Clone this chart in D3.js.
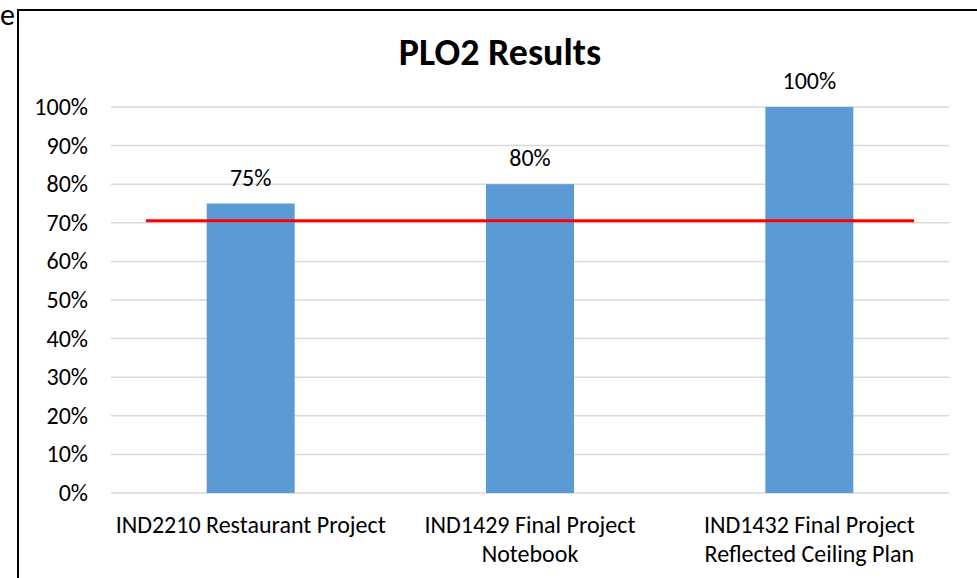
<!DOCTYPE html>
<html>
<head>
<meta charset="utf-8">
<script src="https://cdn.jsdelivr.net/npm/d3@7"></script>
<style>
  body { margin: 0; background: #fff; }
  text { font-family: Calibri, Carlito, Lato, "Open Sans", sans-serif; }
</style>
</head>
<body>
<div id="chart"></div>
<script>
// chart values
var categories = [
  ["IND2210 Restaurant Project"],
  ["IND1429 Final Project", "Notebook"],
  ["IND1432 Final Project", "Reflected Ceiling Plan"]
];
var results = [75, 80, 100];
var target = 70.5;
var yTicks = [0, 10, 20, 30, 40, 50, 60, 70, 80, 90, 100];
var chartTitle = "PLO2 Results";

var width = 977, height = 578;
var margin = { top: 107, right: 28, bottom: 85, left: 111 };

var svg = d3.select("#chart").append("svg")
  .attr("width", width)
  .attr("height", height);

// stray text from the page that holds the chart (cut off in the source too)
svg.append("text")
  .attr("x", 15)
  .attr("y", 25)
  .attr("text-anchor", "end")
  .style("font-size", "30px")
  .text("e");

// outer chart frame
svg.append("rect")
  .attr("x", 18)
  .attr("y", 10)
  .attr("width", width + 10)
  .attr("height", height + 10)
  .attr("fill", "none")
  .attr("stroke", "#000")
  .attr("stroke-width", 2);

var x = d3.scaleBand()
  .domain(d3.range(categories.length))
  .range([margin.left, width - margin.right])
  .paddingInner(0.685)
  .paddingOuter(0.3425);

var y = d3.scaleLinear()
  .domain([0, 100])
  .range([height - margin.bottom, margin.top]);

// gridlines
svg.append("g")
  .selectAll("line")
  .data(yTicks)
  .join("line")
  .attr("x1", margin.left)
  .attr("x2", width - margin.right)
  .attr("y1", d => y(d))
  .attr("y2", d => y(d))
  .attr("stroke", "#d9d9d9")
  .attr("stroke-width", 1.5);

// y tick labels
svg.append("g")
  .selectAll("text")
  .data(yTicks)
  .join("text")
  .attr("x", 88)
  .attr("y", d => y(d))
  .attr("dy", "0.33em")
  .attr("text-anchor", "end")
  .style("font-size", "24px")
  .attr("fill", "#000")
  .text(d => d + "%");

// bars
svg.append("g")
  .selectAll("rect")
  .data(results)
  .join("rect")
  .attr("x", (d, i) => x(i))
  .attr("width", x.bandwidth())
  .attr("y", d => y(d))
  .attr("height", d => y(0) - y(d))
  .attr("fill", "#5b9bd5");

// value labels
svg.append("g")
  .selectAll("text")
  .data(results)
  .join("text")
  .attr("x", (d, i) => x(i) + x.bandwidth() / 2)
  .attr("y", d => y(d) - 18)
  .attr("text-anchor", "middle")
  .style("font-size", "24px")
  .attr("fill", "#000")
  .text(d => d + "%");

// target line
var step = x.step();
svg.append("line")
  .attr("x1", x(0) + x.bandwidth() / 2 - step * 0.375)
  .attr("x2", x(categories.length - 1) + x.bandwidth() / 2 + step * 0.375)
  .attr("y1", y(target))
  .attr("y2", y(target))
  .attr("stroke", "#ff0000")
  .attr("stroke-width", 3);

// category labels
var catLabels = svg.append("g")
  .selectAll("text")
  .data(categories)
  .join("text")
  .attr("x", (d, i) => x(i) + x.bandwidth() / 2)
  .attr("y", 533)
  .attr("text-anchor", "middle")
  .style("font-size", "24px")
  .attr("fill", "#000");

catLabels.selectAll("tspan")
  .data(d => d)
  .join("tspan")
  .attr("x", function() { return d3.select(this.parentNode).attr("x"); })
  .attr("dy", (d, i) => i === 0 ? 0 : 29)
  .text(d => d);

// title
svg.append("text")
  .attr("x", 500)
  .attr("y", 65)
  .attr("text-anchor", "middle")
  .style("font-size", "38px")
  .style("font-weight", "bold")
  .attr("fill", "#000")
  .text(chartTitle);
</script>
</body>
</html>
